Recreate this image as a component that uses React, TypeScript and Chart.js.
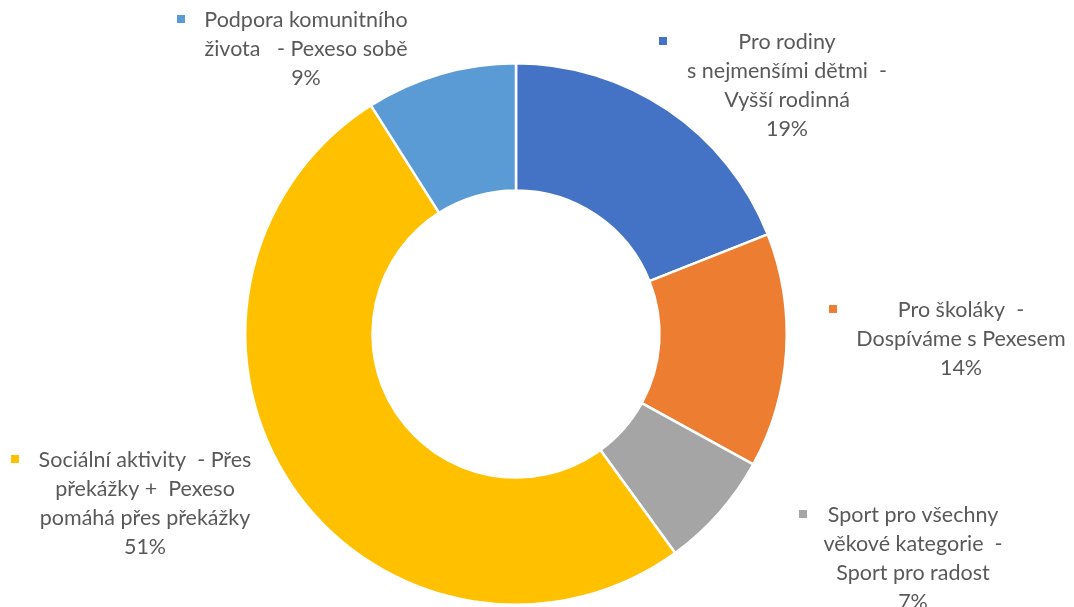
import React, { useEffect, useRef } from "react";
import { Chart, registerables } from "chart.js";

Chart.register(...registerables);

const categories: string[][] = [
  ["Pro rodiny", "s nejmenšími dětmi  -", "Vyšší rodinná"],
  ["Pro školáky  -", "Dospíváme s Pexesem"],
  ["Sport pro všechny", "věkové kategorie  -", "Sport pro radost"],
  ["Sociální aktivity  - Přes", "překážky +  Pexeso", "pomáhá přes překážky"],
  ["Podpora komunitního", "života   - Pexeso sobě"],
];
const values: number[] = [19, 14, 7, 51, 9];
const percentLabels: string[] = ["19%", "14%", "7%", "51%", "9%"];
const colors: string[] = ["#4472C4", "#ED7D31", "#A5A5A5", "#FFC000", "#5B9BD5"];

// label block anchors (center x, first line y, marker x)
const labelAnchors = [
  { cx: 787, y: 42, mx: 663 },
  { cx: 961, y: 310, mx: 833 },
  { cx: 913, y: 515, mx: 803 },
  { cx: 145, y: 460, mx: 15 },
  { cx: 306, y: 20, mx: 181 },
];

const FONT = "21.5px Lato";
const LINE_H = 29;

const labelPlugin = {
  id: "outerLabels",
  afterDraw(chart: any) {
    const ctx = chart.ctx as CanvasRenderingContext2D;
    ctx.save();
    ctx.font = FONT;
    ctx.textAlign = "center";
    ctx.textBaseline = "middle";
    categories.forEach((lines, i) => {
      const a = labelAnchors[i];
      const all = [...lines, percentLabels[i]];
      ctx.fillStyle = colors[i];
      ctx.fillRect(a.mx - 4, a.y - 5, 8, 8);
      ctx.fillStyle = "#595959";
      all.forEach((t, j) => ctx.fillText(t, a.cx, a.y + j * LINE_H));
    });
    ctx.restore();
  },
};

export default function App() {
  const ref = useRef<HTMLCanvasElement | null>(null);
  useEffect(() => {
    document.body.style.margin = "0";
    const chart = new Chart(ref.current!, {
      type: "doughnut",
      data: {
        labels: categories.map((l) => l.join(" ")),
        datasets: [
          {
            data: values,
            backgroundColor: colors,
            borderColor: "#ffffff",
            borderWidth: 2.5,
          },
        ],
      },
      options: {
        responsive: false,
        animation: false,
        cutout: "53%",
        layout: { padding: { left: 244, right: 286, top: 62, bottom: 1 } },
        plugins: { legend: { display: false }, tooltip: { enabled: false } },
      },
      plugins: [labelPlugin],
    });
    return () => chart.destroy();
  }, []);
  return (
    <div style={{ width: 1074, height: 607, background: "#fff" }}>
      <canvas ref={ref} width={1074} height={607} />
    </div>
  );
}
